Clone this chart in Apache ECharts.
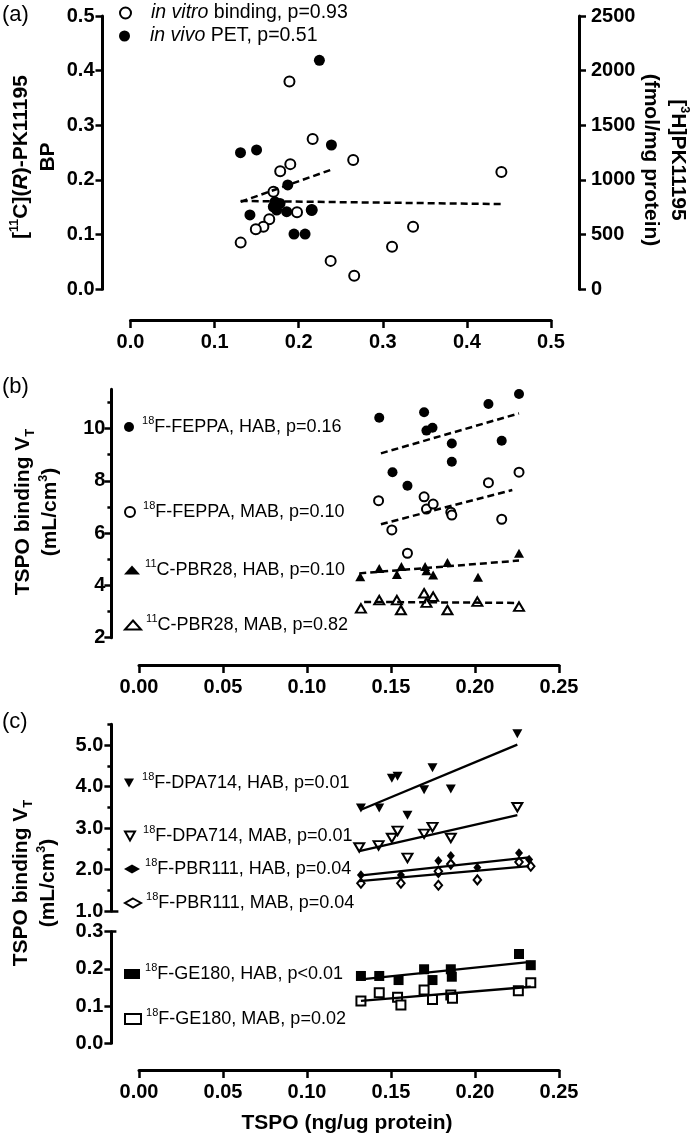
<!DOCTYPE html>
<html><head><meta charset="utf-8">
<script src="https://cdn.jsdelivr.net/npm/echarts@6/dist/echarts.min.js"></script>
<style>html,body{margin:0;padding:0;background:#fff}#c{width:700px;height:1141px}</style>
</head><body><div id="c"></div><script>
// ---------- Panel (a) ----------
const aXTicks = [0, 0.1, 0.2, 0.3, 0.4, 0.5];
const aYTicks = [0, 0.1, 0.2, 0.3, 0.4, 0.5];
const aY2Ticks = [0, 500, 1000, 1500, 2000, 2500];
const aVitroX = [0.189, 0.2166, 0.2648, 0.441, 0.178, 0.190, 0.170, 0.165, 0.158, 0.149, 0.131, 0.198, 0.2155, 0.238, 0.266, 0.311, 0.336];
const aVitroY = [1900, 1375, 1183, 1073, 1080, 1145, 893, 640, 573, 550, 427, 705, 725, 260, 125, 390, 573];
const aVivoX = [0.2246, 0.1308, 0.1499, 0.2389, 0.187, 0.142, 0.1718, 0.1778, 0.1698, 0.1738, 0.1857, 0.2155, 0.1944, 0.2076];
const aVivoY = [0.419, 0.250, 0.255, 0.264, 0.191, 0.136, 0.160, 0.157, 0.151, 0.145, 0.142, 0.145, 0.101, 0.101];
const aVitroFitX = [0.131, 0.441], aVitroFitY = [808, 780];
const aVivoFitX = [0.131, 0.239], aVivoFitY = [0.160, 0.219];

// ---------- Panel (b) ----------
const bXTicks = [0, 0.05, 0.10, 0.15, 0.20, 0.25];
const bYTicks = [2, 4, 6, 8, 10];
const bYMinor = [3, 5, 7, 9, 11];
const bFeppaHabX = [0.143, 0.1697, 0.1711, 0.1747, 0.1862, 0.1862, 0.1509, 0.1598, 0.208, 0.2262, 0.2159];
const bFeppaHabY = [10.41, 10.62, 9.92, 10.03, 9.43, 8.73, 8.33, 7.81, 10.94, 11.32, 9.53];
const bFeppaHabFitX = [0.144, 0.2262], bFeppaHabFitY = [9.05, 10.58];
const bFeppaMabX = [0.1426, 0.1505, 0.1598, 0.1697, 0.1711, 0.1751, 0.1856, 0.1862, 0.208, 0.2159, 0.2262];
const bFeppaMabY = [7.24, 6.12, 5.23, 7.39, 6.92, 7.11, 6.80, 6.69, 7.93, 6.53, 8.33];
const bFeppaMabFitX = [0.144, 0.2222], bFeppaMabFitY = [6.34, 7.65];
const bPbrHabX = [0.1317, 0.143, 0.1535, 0.1562, 0.1703, 0.1711, 0.1751, 0.1836, 0.2018, 0.2262];
const bPbrHabY = [4.33, 4.65, 4.42, 4.72, 4.72, 4.56, 4.40, 4.88, 4.31, 5.23];
const bPbrHabFitX = [0.1311, 0.2262], bPbrHabFitY = [4.46, 4.95];
const bPbrMabX = [0.1321, 0.143, 0.1535, 0.1559, 0.1697, 0.1711, 0.1751, 0.1836, 0.2014, 0.2262];
const bPbrMabY = [3.12, 3.44, 3.44, 3.06, 3.70, 3.34, 3.57, 3.06, 3.38, 3.19];
const bPbrMabFitX = [0.134, 0.2262], bPbrMabFitY = [3.37, 3.33];

// ---------- Panel (c) ----------
const cXTicks = [0, 0.05, 0.10, 0.15, 0.20, 0.25];
const cUpTicks = [1, 2, 3, 4, 5];
const cUpMinor = [1.5, 2.5, 3.5, 4.5, 5.5];
const cLoTicks = [0, 0.1, 0.2, 0.3];
const cDpaHabX = [0.1321, 0.143, 0.1505, 0.1539, 0.1598, 0.1697, 0.1747, 0.1856, 0.2252];
const cDpaHabY = [3.48, 3.48, 4.20, 4.25, 3.31, 3.92, 4.45, 3.94, 5.27];
const cDpaHabFitX = [0.1321, 0.2252], cDpaHabFitY = [3.44, 5.01];
const cDpaMabX = [0.1311, 0.1426, 0.1505, 0.1539, 0.1598, 0.1697, 0.1747, 0.1856, 0.2252];
const cDpaMabY = [2.53, 2.58, 2.76, 2.93, 2.28, 2.86, 3.02, 2.76, 3.50];
const cDpaMabFitX = [0.1311, 0.2252], cDpaMabFitY = [2.44, 3.31];
const cPbrHabX = [0.1321, 0.1559, 0.1782, 0.1782, 0.1856, 0.2014, 0.2262, 0.2322];
const cPbrHabY = [1.87, 1.87, 2.21, 1.90, 2.33, 2.05, 2.40, 2.24];
const cPbrHabFitX = [0.1311, 0.2322], cPbrHabFitY = [1.85, 2.29];
const cPbrMabX = [0.1321, 0.1559, 0.1782, 0.1782, 0.1856, 0.2014, 0.2262, 0.2332];
const cPbrMabY = [1.67, 1.67, 1.96, 1.62, 2.13, 1.75, 2.18, 2.08];
const cPbrMabFitX = [0.1311, 0.2322], cPbrMabFitY = [1.72, 2.08];
const cGeHabX = [0.1321, 0.143, 0.1545, 0.1697, 0.1747, 0.1856, 0.1862, 0.2262, 0.2332];
const cGeHabY = [0.181, 0.181, 0.170, 0.199, 0.170, 0.199, 0.179, 0.240, 0.210];
const cGeHabFitX = [0.1321, 0.2332], cGeHabFitY = [0.172, 0.219];
const cGeMabX = [0.1321, 0.143, 0.1539, 0.1559, 0.1697, 0.1747, 0.1856, 0.1866, 0.2258, 0.2332];
const cGeMabY = [0.114, 0.136, 0.124, 0.103, 0.143, 0.118, 0.130, 0.121, 0.141, 0.163];
const cGeMabFitX = [0.1321, 0.2332], cGeMabFitY = [0.114, 0.152];

// ---------- helpers ----------
const FONT = "'Liberation Sans', Arial, Helvetica, sans-serif";
const zip = (xs, ys) => xs.map((x, i) => [x, ys[i]]);
const DOWN = 'path://M0,0L10,0L5,9Z';

function vAxis(o) {
  return {
    type: 'value', gridIndex: o.grid, position: o.pos, min: o.min, max: o.max, offset: o.offset || 0,
    show: o.show !== false,
    axisLine: { show: o.line !== false, onZero: false, lineStyle: { color: '#000', width: 3 } },
    axisTick: { show: true, customValues: o.ticks, inside: !!o.inside, length: o.tickLen || 7,
      lineStyle: { color: '#000', width: 2.5 } },
    axisLabel: { show: o.labels !== false, customValues: o.ticks, formatter: o.fmt,
      color: '#000', fontFamily: FONT, fontWeight: 'bold', fontSize: 20, margin: o.margin || 8 },
    splitLine: { show: false }
  };
}
function sc(name, xs, ys, xi, yi, symbol, size, filled) {
  return { type: 'scatter', name, xAxisIndex: xi, yAxisIndex: yi, data: zip(xs, ys), symbol, symbolSize: size,
    itemStyle: filled ? { color: '#000', borderWidth: 0, opacity: 1 } : { color: '#fff', borderColor: '#000', borderWidth: 2, opacity: 1 },
    z: 2, silent: true, emphasis: { disabled: true } };
}
function fit(xs, ys, xi, yi, dashed) {
  return { type: 'line', xAxisIndex: xi, yAxisIndex: yi, data: zip(xs, ys), symbol: 'none', silent: true,
    lineStyle: { color: '#000', width: dashed ? 2.5 : 2.3, type: dashed ? [7, 4] : 'solid' }, z: 3 };
}
const legRich = {
  t: { fontFamily: FONT, fontSize: 18, color: '#000', lineHeight: 24 },
  i: { fontFamily: FONT, fontSize: 19.5, fontStyle: 'italic', color: '#000', lineHeight: 24 },
  u: { fontFamily: FONT, fontSize: 19.5, color: '#000', lineHeight: 24 },
  sup: { fontFamily: FONT, fontSize: 11, color: '#000', lineHeight: 12, verticalAlign: 'top' }
};
function leg(name, text, left, cy, w, h, pad) {
  return { data: [name], left, top: cy - 12, itemWidth: w, itemHeight: h, padding: 0, itemGap: 0,
    selectedMode: false, formatter: () => text,
    textStyle: { color: '#000', fontFamily: FONT, rich: legRich, padding: [0, 0, 0, pad] } };
}

const titleRich = {
  b: { fontFamily: FONT, fontSize: 21, fontWeight: 'bold', fill: '#000', lineHeight: 27 },
  bi: { fontFamily: FONT, fontSize: 21, fontWeight: 'bold', fontStyle: 'italic', fill: '#000', lineHeight: 27 },
  s: { fontFamily: FONT, fontSize: 12.5, fontWeight: 'bold', fill: '#000', lineHeight: 14, verticalAlign: 'top' },
  sub: { fontFamily: FONT, fontSize: 13, fontWeight: 'bold', fill: '#000', lineHeight: 14, verticalAlign: 'bottom' }
};
function gText(text, x, y, rot) {
  return { type: 'text', x, y, rotation: rot || 0, silent: true,
    style: { text, rich: titleRich, fill: '#000', align: 'center', verticalAlign: 'middle',
      font: 'bold 21px ' + FONT } };
}
function letter(t, y) {
  return { type: 'text', x: 2, y, silent: true,
    style: { text: t, fill: '#000', font: '22px ' + FONT, align: 'left', verticalAlign: 'middle' } };
}

const f1 = v => v.toFixed(1), f2 = v => v.toFixed(2), f0 = v => String(v);

const option = {
  animation: false,
  backgroundColor: '#fff',
  grid: [
    { left: 130.5, top: 16, width: 420.5, height: 273.3, outerBoundsMode: 'none', containLabel: false },
    { left: 139, top: 389.3, width: 420, height: 248.4, outerBoundsMode: 'none', containLabel: false },
    { left: 139, top: 724.25, width: 420, height: 186.75, outerBoundsMode: 'none', containLabel: false },
    { left: 139, top: 931.7, width: 420, height: 111.6, outerBoundsMode: 'none', containLabel: false }
  ],
  xAxis: [
    vAxis({ grid: 0, pos: 'bottom', min: 0, max: 0.5, ticks: aXTicks, fmt: f1, offset: 30.7, margin: 12, tickLen: 8 }),
    vAxis({ grid: 1, pos: 'bottom', min: 0, max: 0.25, ticks: bXTicks, fmt: f2, offset: 27.3, margin: 12, tickLen: 8 }),
    vAxis({ grid: 2, pos: 'bottom', min: 0, max: 0.25, ticks: cXTicks, fmt: f2, show: false }),
    vAxis({ grid: 3, pos: 'bottom', min: 0, max: 0.25, ticks: cXTicks, fmt: f2, offset: 26.7, margin: 12, tickLen: 8 })
  ],
  yAxis: [
    vAxis({ grid: 0, pos: 'left', min: 0, max: 0.5, ticks: aYTicks, fmt: f1, offset: 28 }),
    vAxis({ grid: 0, pos: 'right', min: 0, max: 2500, ticks: aY2Ticks, fmt: f0, offset: 28, margin: 12 }),
    vAxis({ grid: 1, pos: 'left', min: 2, max: 11.5, ticks: bYTicks, fmt: f0, offset: 27.6, margin: 6 }),
    vAxis({ grid: 1, pos: 'left', min: 2, max: 11.5, ticks: bYMinor, offset: 27.6, labels: false, line: false, tickLen: 4 }),
    vAxis({ grid: 2, pos: 'left', min: 1, max: 5.5, ticks: cUpTicks, fmt: f1, offset: 27.6 }),
    vAxis({ grid: 2, pos: 'left', min: 1, max: 5.5, ticks: cUpMinor, offset: 27.6, labels: false, line: false, tickLen: 4 }),
    vAxis({ grid: 2, pos: 'left', min: 1, max: 5.5, ticks: [1], offset: 27.6, labels: false, line: false, inside: true, tickLen: 7 }),
    vAxis({ grid: 3, pos: 'left', min: 0, max: 0.3, ticks: cLoTicks, fmt: f1, offset: 27.6 }),
    vAxis({ grid: 3, pos: 'left', min: 0, max: 0.3, ticks: [0.3], offset: 27.6, labels: false, line: false, inside: true, tickLen: 5 })
  ],
  legend: [
    leg('in vitro binding', '{i|in vitro}{u| binding, p=0.93}', 119, 15, 40, 11, 0.5),
    leg('in vivo PET', '{i|in vivo}{u| PET, p=0.51}', 119, 38, 40, 11, 0.5),
    leg('FEPPA HAB', '{sup|18}{t|F-FEPPA, HAB, p=0.16}', 124, 427, 16, 10, 0.1),
    leg('FEPPA MAB', '{sup|18}{t|F-FEPPA, MAB, p=0.10}', 124, 512, 16, 10, 0.1),
    leg('PBR28 HAB', '{sup|11}{t|C-PBR28, HAB, p=0.10}', 124, 570, 16, 9, 0.1),
    leg('PBR28 MAB', '{sup|11}{t|C-PBR28, MAB, p=0.82}', 124, 625, 16, 9, 0.1),
    leg('DPA714 HAB', '{sup|18}{t|F-DPA714, HAB, p=0.01}', 124, 783, 16, 9, 0.1),
    leg('DPA714 MAB', '{sup|18}{t|F-DPA714, MAB, p=0.01}', 124, 836, 16, 9, 0.1),
    leg('PBR111 HAB', '{sup|18}{t|F-PBR111, HAB, p=0.04}', 124, 869, 16, 9, 0.1),
    leg('PBR111 MAB', '{sup|18}{t|F-PBR111, MAB, p=0.04}', 124, 903, 16, 9, 0.1),
    leg('GE180 HAB', '{sup|18}{t|F-GE180, HAB, p<0.01}', 124, 974, 16, 10, 0.1),
    leg('GE180 MAB', '{sup|18}{t|F-GE180, MAB, p=0.02}', 124, 1019, 16, 10, 0.1)
  ],
  series: [
    sc('in vitro binding', aVitroX, aVitroY, 0, 1, 'circle', 10, false),
    sc('in vivo PET', aVivoX, aVivoY, 0, 0, 'circle', 11, true),
    fit(aVitroFitX, aVitroFitY, 0, 1, true),
    fit(aVivoFitX, aVivoFitY, 0, 0, true),

    sc('FEPPA HAB', bFeppaHabX, bFeppaHabY, 1, 2, 'circle', 10, true),
    sc('FEPPA MAB', bFeppaMabX, bFeppaMabY, 1, 2, 'circle', 9, false),
    sc('PBR28 HAB', bPbrHabX, bPbrHabY, 1, 2, 'triangle', [10, 9], true),
    sc('PBR28 MAB', bPbrMabX, bPbrMabY, 1, 2, 'triangle', [10, 8.5], false),
    fit(bFeppaHabFitX, bFeppaHabFitY, 1, 2, true),
    fit(bFeppaMabFitX, bFeppaMabFitY, 1, 2, true),
    fit(bPbrHabFitX, bPbrHabFitY, 1, 2, true),
    fit(bPbrMabFitX, bPbrMabFitY, 1, 2, true),

    sc('DPA714 HAB', cDpaHabX, cDpaHabY, 2, 4, DOWN, [10, 9], true),
    sc('DPA714 MAB', cDpaMabX, cDpaMabY, 2, 4, DOWN, [10, 8.5], false),
    sc('PBR111 HAB', cPbrHabX, cPbrHabY, 2, 4, 'diamond', [8, 9.5], true),
    sc('PBR111 MAB', cPbrMabX, cPbrMabY, 2, 4, 'diamond', [7.5, 9], false),
    fit(cDpaHabFitX, cDpaHabFitY, 2, 4, false),
    fit(cDpaMabFitX, cDpaMabFitY, 2, 4, false),
    fit(cPbrHabFitX, cPbrHabFitY, 2, 4, false),
    fit(cPbrMabFitX, cPbrMabFitY, 2, 4, false),

    sc('GE180 HAB', cGeHabX, cGeHabY, 3, 7, 'rect', 10, true),
    sc('GE180 MAB', cGeMabX, cGeMabY, 3, 7, 'rect', 9, false),
    fit(cGeHabFitX, cGeHabFitY, 3, 7, false),
    fit(cGeMabFitX, cGeMabFitY, 3, 7, false)
  ],
  graphic: [
    letter('(a)', 15), letter('(b)', 387), letter('(c)', 722),
    gText('{b|[}{s|11}{b|C](}{bi|R}{b|)-PK11195}\n{b|BP}', 35, 157, Math.PI / 2),
    gText('{b|[}{s|3}{b|H]PK11195}\n{b|(fmol/mg protein)}', 664, 160, -Math.PI / 2),
    gText('{b|TSPO binding V}{sub|T}\n{b|(mL/cm}{s|3}{b|)}', 37, 512, Math.PI / 2),
    gText('{b|TSPO binding V}{sub|T}\n{b|(mL/cm}{s|3}{b|)}', 35, 883, Math.PI / 2),
    gText('{b|TSPO (ng/ug protein)}', 347, 1123, 0)
  ]
};

const chart = echarts.init(document.getElementById('c'), null, { renderer: 'canvas' });
chart.setOption(option);
</script></body></html>
